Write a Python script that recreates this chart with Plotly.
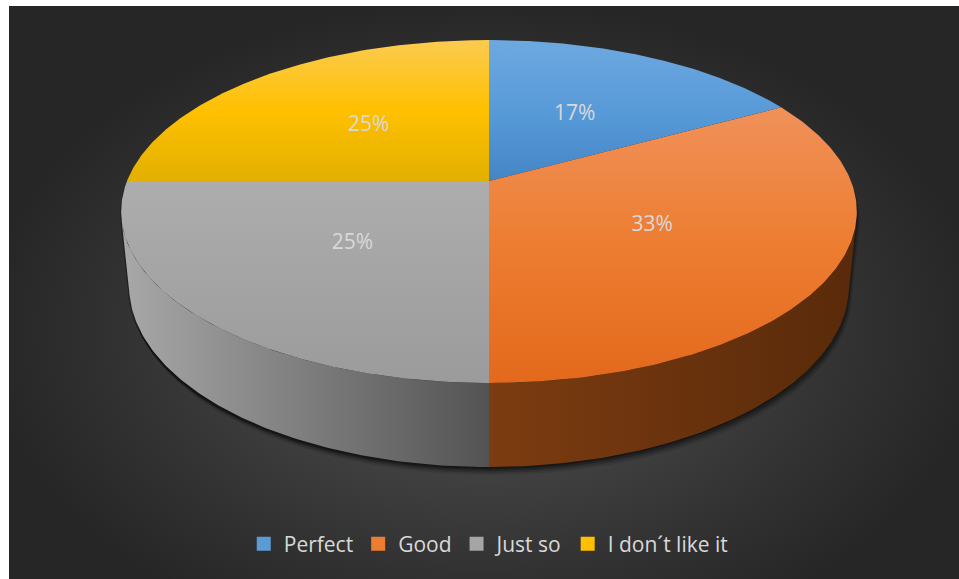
import numpy as np
import plotly.graph_objects as go

# ---- data -------------------------------------------------------------
categories = ["Perfect", "Good", "Just so", "I don´t like it"]
shares = [17, 33, 25, 25]          # percent of answers

# ---- styling ----------------------------------------------------------
legend_colors = ["#5B9BD5", "#ED7D31", "#A5A5A5", "#FFC000"]
top_gradients = [
    [[0, "#6EA8E0"], [0.55, "#5699D7"], [1, "#4585C6"]],
    [[0, "#F0915A"], [0.5, "#ED7D31"], [1, "#E3691C"]],
    [[0, "#ADADAD"], [1, "#9B9B9B"]],
    [[0, "#FBCB50"], [0.5, "#FFC000"], [1, "#E2B000"]],
]
side_gradients = [
    [[0, "#3F6F9E"], [1, "#2E557C"]],
    [[0, "#7C3C11"], [1, "#592A0A"]],
    [[0, "#A8A8A8"], [1, "#535353"]],
    [[0, "#A88000"], [1, "#7A5C00"]],
]
TEXT_COLOR = "#D9D9D9"
FONT = "Open Sans"

# ---- 3-D pie geometry (screen pixels) ---------------------------------
FIG_W, FIG_H = 959, 579
CX, CY = 489.0, 181.0        # projected pie centre
FOCAL = 1808.0               # projection scale
CAM_DIST = 4.995             # camera distance in pie radii
ELEV = np.radians(27.3)      # viewing elevation
DEPTH = 0.234                # pie thickness in pie radii
LABEL_R = 0.5                # label radius on the top face


def project(theta, r=1.0, h=0.0):
    """Perspective-project a point of the pie (theta clockwise from the back)."""
    X = r * np.sin(theta)
    Z = -r * np.cos(theta)
    yc = h * np.cos(ELEV) - Z * np.sin(ELEV)
    zc = Z * np.cos(ELEV) + h * np.sin(ELEV)
    s = FOCAL / (CAM_DIST - zc)
    return CX + X * s, CY - yc * s


total = float(sum(shares))
edges = np.concatenate([[0.0], np.cumsum(shares) / total * 2 * np.pi])

# angular range of the outer wall that faces the camera
th_vis = np.arccos(-1.0 / (CAM_DIST * np.cos(ELEV)))
vis_lo, vis_hi = th_vis, 2 * np.pi - th_vis

fig = go.Figure()

# background panel with a soft radial light
bx0, bx1, by0, by1 = -16, 984, 0, 660
fig.add_trace(go.Scatter(
    x=[bx0, bx1, bx1, bx0, bx0], y=[by0, by0, by1, by1, by0],
    mode="lines", line=dict(width=0), fill="toself",
    fillgradient=dict(type="radial",
                      colorscale=[[0, "#4D4D4D"], [0.4, "#424242"],
                                  [0.75, "#313131"], [1, "#262626"]]),
    hoverinfo="skip", showlegend=False))

# silhouette of the pie body, used for the drop shadow
t_back = np.linspace(vis_hi, vis_lo + 2 * np.pi, 200)
t_front = np.linspace(vis_lo, vis_hi, 200)
sx_top, sy_top = project(t_back, 1.0, 0.0)
sx_bot, sy_bot = project(t_front, 1.0, -DEPTH)
sil_x = np.concatenate([sx_top, sx_bot])
sil_y = np.concatenate([sy_top, sy_bot])
for dx, dy, a in [(3, 8, 0.10), (2, 6, 0.16), (1, 4, 0.25), (-1, 2, 0.35)]:
    fig.add_trace(go.Scatter(
        x=np.append(sil_x, sil_x[0]) + dx, y=np.append(sil_y, sil_y[0]) + dy,
        mode="lines", line=dict(width=0), fill="toself",
        fillcolor=f"rgba(0,0,0,{a})", hoverinfo="skip", showlegend=False))

# outer walls (only the part turned towards the viewer)
for i in range(len(shares)):
    a, b = edges[i], edges[i + 1]
    lo, hi = max(a, vis_lo), min(b, vis_hi)
    if hi <= lo:
        continue
    t = np.linspace(lo, hi, 120)
    xt, yt = project(t, 1.0, 0.0)
    xb, yb = project(t[::-1], 1.0, -DEPTH)
    px = np.concatenate([xt, xb, xt[:1]])
    py = np.concatenate([yt, yb, yt[:1]])
    fig.add_trace(go.Scatter(
        x=px, y=py, mode="lines", line=dict(width=0), fill="toself",
        fillgradient=dict(type="horizontal", colorscale=side_gradients[i],
                          start=float(px.min()), stop=float(px.max())),
        hoverinfo="skip", showlegend=False))

# top faces
c0x, c0y = project(0.0, 0.0, 0.0)
for i in range(len(shares)):
    a, b = edges[i], edges[i + 1]
    t = np.linspace(a, b, 160)
    xa, ya = project(t, 1.0, 0.0)
    px = np.concatenate([[c0x], xa, [c0x]])
    py = np.concatenate([[c0y], ya, [c0y]])
    fig.add_trace(go.Scatter(
        x=px, y=py, mode="lines", line=dict(width=0), fill="toself",
        fillgradient=dict(type="vertical", colorscale=top_gradients[i],
                          start=float(py.min()), stop=float(py.max())),
        hoverinfo="skip", showlegend=False))

# percentage labels
mids = (edges[:-1] + edges[1:]) / 2
lx, ly = project(mids, LABEL_R, 0.0)
labels = [f"{round(v / total * 100)}%" for v in shares]
fig.add_trace(go.Scatter(
    x=lx, y=ly, mode="text", text=labels,
    textfont=dict(family=FONT, size=21, color=TEXT_COLOR),
    hoverinfo="skip", showlegend=False))

# legend entries
for name, col in zip(categories, legend_colors):
    fig.add_trace(go.Scatter(
        x=[None], y=[None], mode="markers", name=name,
        marker=dict(symbol="square", size=14, color=col, line=dict(width=0))))

fig.update_xaxes(visible=False, range=[9, FIG_W], fixedrange=True)
fig.update_yaxes(visible=False, range=[FIG_H, 6], fixedrange=True)
fig.update_layout(
    width=FIG_W, height=FIG_H,
    margin=dict(l=9, r=0, t=6, b=0, pad=0),
    paper_bgcolor="white", plot_bgcolor="#2B2B2B",
    showlegend=True,
    legend=dict(orientation="h", x=0.505, xanchor="center",
                y=0.061, yanchor="middle",
                font=dict(family=FONT, size=21, color=TEXT_COLOR),
                bgcolor="rgba(0,0,0,0)", itemclick=False,
                itemdoubleclick=False),
)

fig.write_html("out.html")
